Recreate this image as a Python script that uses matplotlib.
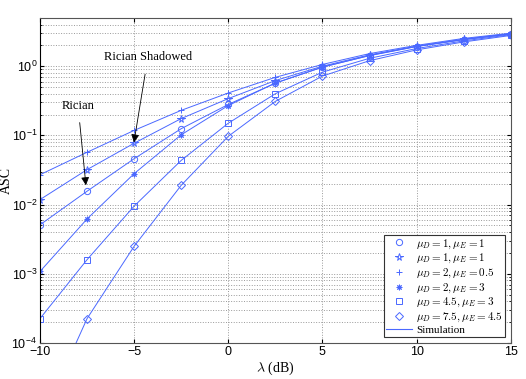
import numpy as np
import matplotlib
matplotlib.use('Agg')
import matplotlib.pyplot as plt

plt.rcParams['mathtext.fontset'] = 'cm'
plt.rcParams['font.family'] = ['Liberation Sans', 'DejaVu Sans']

snr_db = [-10, -7.5, -5, -2.5, 0, 2.5, 5, 7.5, 10, 12.5, 15]

# mu_D = 1, mu_E = 1 (circle)
asc_circle = [0.0051, 0.0156, 0.046, 0.125, 0.28, 0.57, 0.97, 1.42, 1.92, 2.42, 2.92]
# mu_D = 1, mu_E = 1 (star)
asc_star = [0.0118, 0.032, 0.077, 0.175, 0.34, 0.62, 1.0, 1.46, 1.95, 2.45, 2.95]
# mu_D = 2, mu_E = 0.5
asc_plus = [0.027, 0.057, 0.118, 0.23, 0.41, 0.69, 1.06, 1.52, 2.0, 2.52, 3.0]
# mu_D = 2, mu_E = 3
asc_aster = [0.00108, 0.0062, 0.028, 0.102, 0.27, 0.57, 0.97, 1.43, 1.93, 2.43, 2.93]
# mu_D = 4.5, mu_E = 3
asc_square = [0.000225, 0.0016, 0.0095, 0.0435, 0.15, 0.40, 0.82, 1.30, 1.80, 2.32, 2.85]
# mu_D = 7.5, mu_E = 4.5
asc_diamond = [7e-6, 0.000225, 0.0025, 0.019, 0.097, 0.31, 0.72, 1.20, 1.72, 2.24, 2.78]

labels = [r'$\mu_D=1,\mu_E=1$', r'$\mu_D=1,\mu_E=1$', r'$\mu_D=2,\mu_E=0.5$',
          r'$\mu_D=2,\mu_E=3$', r'$\mu_D=4.5,\mu_E=3$', r'$\mu_D=7.5,\mu_E=4.5$']
series = [asc_circle, asc_star, asc_plus, asc_aster, asc_square, asc_diamond]
markers = ['o', '*', '+', (8, 2, 0), 's', 'D']
msizes = [4.5, 5.5, 5, 4, 3.8, 3.8]

blue = '#4a68ff'

fig = plt.figure(figsize=(5.26, 3.79), dpi=100)
ax = fig.add_axes([0.076, 0.095, 0.895, 0.858])

for ys, mk, ms, lab in zip(series, markers, msizes, labels):
    ax.semilogy(snr_db, ys, linestyle='none', marker=mk, ms=ms, mfc='none',
                mec=blue, mew=0.7, label=lab)
for ys in series:
    ax.semilogy(snr_db, ys, '-', color=blue, lw=0.7)
ax.plot([], [], '-', color=blue, lw=0.8, label='Simulation')

ax.set_xlim(-10, 15)
ax.set_ylim(1e-4, 5)
ax.set_xticks([-10, -5, 0, 5, 10, 15])
ax.grid(True, which='major', linestyle=':', color='#999999', lw=0.7)
ax.grid(True, which='minor', axis='y', linestyle=':', color='#999999', lw=0.7)
ax.tick_params(direction='in', which='both', top=True, right=True, labelsize=9,
               pad=2)
ax.tick_params(which='major', length=3)
ax.tick_params(which='minor', length=1.5)
for sp in ax.spines.values():
    sp.set_color('#555555')
ax.spines['left'].set_color('k')

ax.set_xlabel(r'$\lambda$ (dB)', family='Liberation Serif', fontsize=10, labelpad=1)
ax.set_ylabel('ASC', family='Liberation Serif', fontsize=10)
ax.yaxis.set_label_coords(-0.058, 0.5)

ax.annotate('Rician Shadowed', xy=(-5.01, 0.079), xytext=(-4.27, 1.35),
            family='Liberation Serif', fontsize=9, ha='center', va='center',
            arrowprops=dict(arrowstyle='-|>', color='k', lw=0.6,
                            mutation_scale=12, shrinkA=6, shrinkB=0))
ax.annotate('Rician', xy=(-7.56, 0.019), xytext=(-7.98, 0.27),
            family='Liberation Serif', fontsize=9, ha='center', va='center',
            arrowprops=dict(arrowstyle='-|>', color='k', lw=0.6,
                            mutation_scale=12, shrinkA=6, shrinkB=0))

leg = ax.legend(loc='lower right', prop={'family': 'Liberation Serif', 'size': 8},
                fancybox=False, edgecolor='#333333', framealpha=1, borderpad=0.2,
                labelspacing=0.12, handlelength=2.3, handletextpad=0.4,
                borderaxespad=0.5)
leg.get_frame().set_linewidth(0.8)

fig.savefig('out.png', dpi=100)
